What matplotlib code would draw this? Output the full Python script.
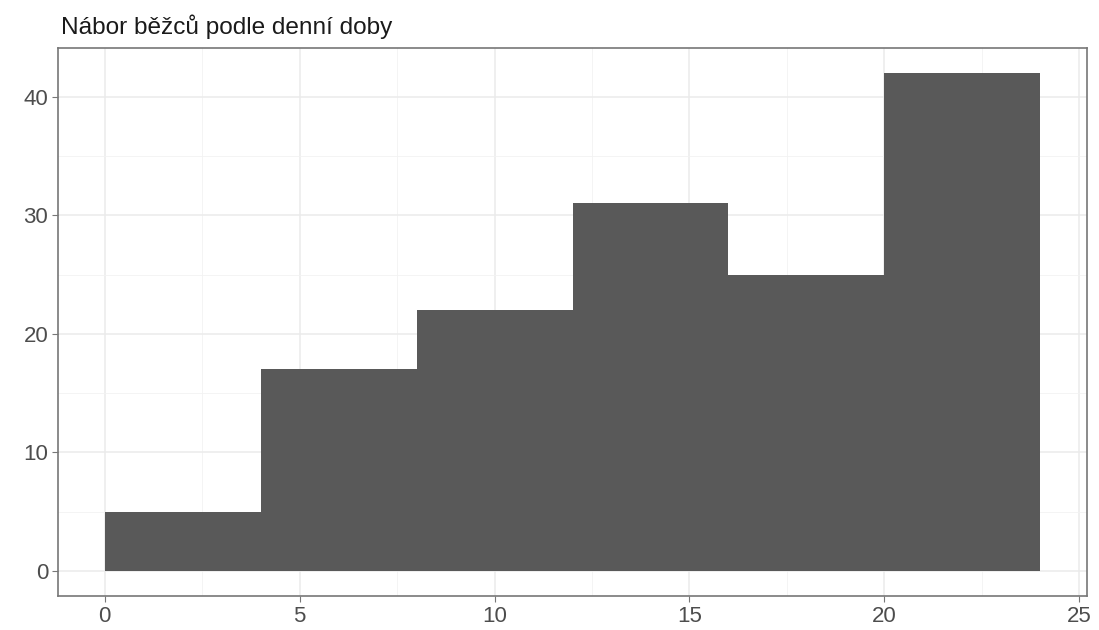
import matplotlib
matplotlib.use("Agg")
import matplotlib.pyplot as plt

# histogram bins (hour of day) and counts
bin_edges = [0, 4, 8, 12, 16, 20, 24]
counts = [5, 17, 22, 31, 25, 42]
title = "Nábor běžců podle denní doby"

plt.rcParams['font.family'] = ['Liberation Sans', 'DejaVu Sans']

fig = plt.figure(figsize=(10.99, 6.3), dpi=100)
ax = fig.add_axes([0.0528, 0.054, 0.9363, 0.8698])

lefts = bin_edges[:-1]
widths = [b - a for a, b in zip(bin_edges[:-1], bin_edges[1:])]
ax.bar(lefts, counts, width=widths, align='edge', color='#595959', zorder=3)

ax.set_xlim(-1.2, 25.2)
ax.set_ylim(-2.1, 44.1)
ax.set_xticks([0, 5, 10, 15, 20, 25])
ax.set_yticks([0, 10, 20, 30, 40])
ax.set_xticks([2.5, 7.5, 12.5, 17.5, 22.5], minor=True)
ax.set_yticks([5, 15, 25, 35], minor=True)

ax.grid(True, which='major', color='#ebebeb', linewidth=1.1, zorder=0)
ax.grid(True, which='minor', color='#f2f2f2', linewidth=0.6, zorder=0)
ax.set_axisbelow(True)

for s in ax.spines.values():
    s.set_color('#777777')
    s.set_linewidth(1.2)

ax.tick_params(which='major', length=4, color='#777777', labelsize=16, labelcolor='#4d4d4d', pad=3)
ax.tick_params(which='minor', length=0)

fig.text(0.0555, 0.958, title, fontsize=17.6, color='#1a1a1a', va='center', ha='left')

fig.savefig("out.png", dpi=100)
